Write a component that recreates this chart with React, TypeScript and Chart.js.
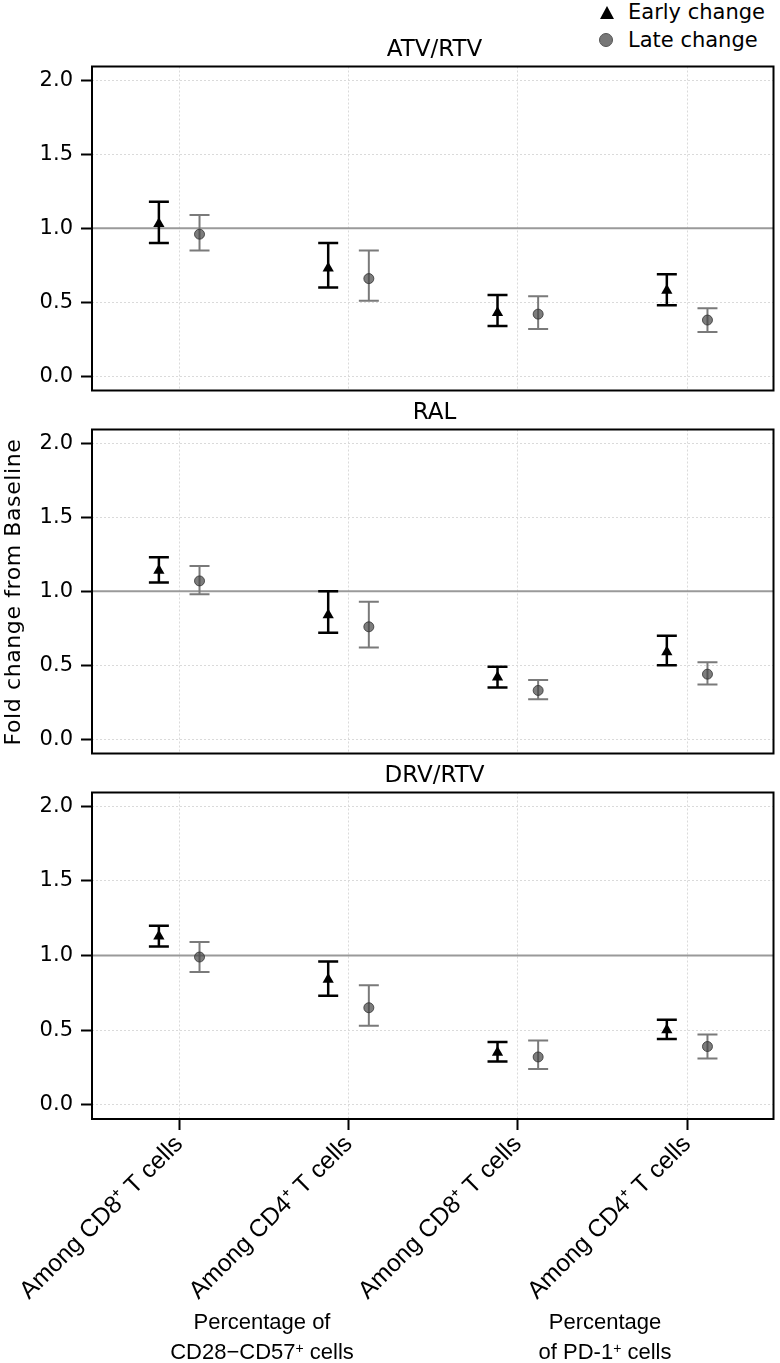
import React, { useEffect, useRef } from "react";
import { Chart, registerables } from "chart.js";

Chart.register(...registerables);

// ---------- data ----------
const categories = [
  "Among CD8\u207A T cells",
  "Among CD4\u207A T cells",
  "Among CD8\u207A T cells",
  "Among CD4\u207A T cells",
];
const panelTitles = ["ATV/RTV", "RAL", "DRV/RTV"];
const seriesNames = ["Early change", "Late change"];
const yTickValues = [0, 0.5, 1, 1.5, 2];
const referenceValue = 1;
const groupLabels = [
  ["Percentage of", "CD28\u2212CD57", " cells"],
  ["Percentage", "of PD-1", " cells"],
];

// ATV/RTV
const atvEarlyMean = [1.03, 0.73, 0.43, 0.58];
const atvEarlyLow = [0.9, 0.6, 0.34, 0.48];
const atvEarlyHigh = [1.18, 0.9, 0.55, 0.69];
const atvLateMean = [0.96, 0.66, 0.42, 0.38];
const atvLateLow = [0.85, 0.51, 0.32, 0.3];
const atvLateHigh = [1.09, 0.85, 0.54, 0.46];

// RAL
const ralEarlyMean = [1.14, 0.84, 0.42, 0.59];
const ralEarlyLow = [1.06, 0.72, 0.35, 0.5];
const ralEarlyHigh = [1.23, 1.0, 0.49, 0.7];
const ralLateMean = [1.07, 0.76, 0.33, 0.44];
const ralLateLow = [0.98, 0.62, 0.27, 0.37];
const ralLateHigh = [1.17, 0.93, 0.4, 0.52];

// DRV/RTV
const drvEarlyMean = [1.13, 0.84, 0.35, 0.5];
const drvEarlyLow = [1.06, 0.73, 0.29, 0.44];
const drvEarlyHigh = [1.2, 0.96, 0.42, 0.57];
const drvLateMean = [0.99, 0.65, 0.32, 0.39];
const drvLateLow = [0.89, 0.53, 0.24, 0.31];
const drvLateHigh = [1.09, 0.8, 0.43, 0.47];

const panelData = [
  { early: [atvEarlyMean, atvEarlyLow, atvEarlyHigh], late: [atvLateMean, atvLateLow, atvLateHigh] },
  { early: [ralEarlyMean, ralEarlyLow, ralEarlyHigh], late: [ralLateMean, ralLateLow, ralLateHigh] },
  { early: [drvEarlyMean, drvEarlyLow, drvEarlyHigh], late: [drvLateMean, drvLateLow, drvLateHigh] },
];

// ---------- styling / layout ----------
const W = 780;
const PLOT_LEFT = 92;
const PAD_RIGHT = 3;
const PLOT_H = 329;
const PLOT_TOPS = [64, 427, 790];
const EARLY_OFFSET = -0.12;
const LATE_OFFSET = 0.12;
const FONT = "'DejaVu Sans', sans-serif";
const LABEL_FONT = "'Liberation Sans', Arial, sans-serif";
const GRID_COLOR = "#dadada";

const decorPlugin = {
  id: "decor",
  beforeDatasetsDraw(chart: any) {
    const { ctx, chartArea, scales } = chart;
    const xs = scales.x;
    const ys = scales.y;
    ctx.save();
    ctx.beginPath();
    ctx.rect(chartArea.left, chartArea.top, chartArea.right - chartArea.left, chartArea.bottom - chartArea.top);
    ctx.clip();
    // reference line
    const yr = ys.getPixelForValue(referenceValue);
    ctx.strokeStyle = "#9a9a9a";
    ctx.lineWidth = 2;
    ctx.beginPath();
    ctx.moveTo(chartArea.left, yr);
    ctx.lineTo(chartArea.right, yr);
    ctx.stroke();
    // error bars
    chart.data.datasets.forEach((ds: any) => {
      ctx.strokeStyle = ds.errColor;
      ctx.lineWidth = ds.errWidth;
      ds.data.forEach((p: any, j: number) => {
        const x = xs.getPixelForValue(p.x);
        const y1 = ys.getPixelForValue(ds.errLow[j]);
        const y2 = ys.getPixelForValue(ds.errHigh[j]);
        const c = ds.capHalf;
        ctx.beginPath();
        ctx.moveTo(x, y1);
        ctx.lineTo(x, y2);
        ctx.moveTo(x - c, y1);
        ctx.lineTo(x + c, y1);
        ctx.moveTo(x - c, y2);
        ctx.lineTo(x + c, y2);
        ctx.stroke();
      });
    });
    ctx.restore();
  },
  afterDraw(chart: any) {
    const { ctx, chartArea } = chart;
    ctx.save();
    ctx.strokeStyle = "#000";
    ctx.lineWidth = 2;
    ctx.strokeRect(chartArea.left, chartArea.top, chartArea.right - chartArea.left, chartArea.bottom - chartArea.top);
    ctx.restore();
  },
};

function Panel({ index }: { index: number }) {
  const ref = useRef<HTMLCanvasElement>(null);
  const isBottom = index === 2;
  const padTop = 4;
  const canvasTop = PLOT_TOPS[index] - padTop;
  const canvasH = isBottom ? 1363 - canvasTop : PLOT_H + padTop + 4;
  const xHeight = canvasH - padTop - PLOT_H;

  useEffect(() => {
    const d = panelData[index];
    const chart = new Chart(ref.current as HTMLCanvasElement, {
      type: "scatter",
      data: {
        datasets: [
          {
            label: seriesNames[0],
            data: d.early[0].map((v, i) => ({ x: i + EARLY_OFFSET, y: v })),
            errLow: d.early[1],
            errHigh: d.early[2],
            errColor: "#000",
            errWidth: 2.5,
            capHalf: 10,
            pointStyle: "triangle",
            pointRadius: 6.5,
            backgroundColor: "#000",
            borderColor: "#000",
            borderWidth: 0,
          } as any,
          {
            label: seriesNames[1],
            data: d.late[0].map((v, i) => ({ x: i + LATE_OFFSET, y: v })),
            errLow: d.late[1],
            errHigh: d.late[2],
            errColor: "#7a7a7a",
            errWidth: 2,
            capHalf: 10,
            pointStyle: "circle",
            pointRadius: 5,
            backgroundColor: "rgba(70,70,70,0.7)",
            borderColor: "rgba(50,50,50,0.8)",
            borderWidth: 1,
          } as any,
        ],
      },
      options: {
        animation: false,
        responsive: false,
        devicePixelRatio: 1,
        layout: { padding: { top: padTop, right: PAD_RIGHT, left: 0, bottom: 0 } },
        plugins: { legend: { display: false }, tooltip: { enabled: false }, title: { display: false } },
        scales: {
          x: {
            type: "linear",
            min: -0.515,
            max: 3.51,
            afterBuildTicks: (s: any) => {
              s.ticks = categories.map((_, i) => ({ value: i }));
            },
            afterFit: (s: any) => {
              s.height = xHeight;
              s.paddingLeft = 0;
              s.paddingRight = 0;
            },
            ticks: {
              display: isBottom,
              autoSkip: false,
              minRotation: 45,
              maxRotation: 45,
              padding: 0,
              color: "#000",
              font: { family: LABEL_FONT, size: 24.5 },
              callback: (v: any) => categories[Math.round(Number(v))],
            },
            grid: {
              color: GRID_COLOR,
              lineWidth: 1,
              drawTicks: isBottom,
              tickLength: 11,
              tickColor: "#000",
              tickWidth: 2,
            },
            border: { display: false, dash: [2, 2] },
          },
          y: {
            type: "linear",
            min: -0.096,
            max: 2.093,
            afterBuildTicks: (s: any) => {
              s.ticks = yTickValues.map((v) => ({ value: v }));
            },
            afterFit: (s: any) => {
              s.width = PLOT_LEFT;
              s.paddingTop = 0;
              s.paddingBottom = 0;
            },
            ticks: {
              color: "#000",
              padding: 8,
              font: { family: FONT, size: 21 },
              callback: (v: any) => Number(v).toFixed(1),
            },
            grid: {
              color: GRID_COLOR,
              lineWidth: 1,
              tickLength: 11,
              tickColor: "#000",
              tickWidth: 2,
            },
            border: { display: false, dash: [2, 2] },
          },
        },
      } as any,
      plugins: [decorPlugin],
    });
    return () => chart.destroy();
  }, [index]);

  return (
    <canvas
      ref={ref}
      width={W}
      height={canvasH}
      style={{ position: "absolute", left: 0, top: canvasTop, width: W, height: canvasH }}
    />
  );
}

const titleCenterX = (PLOT_LEFT + W - PAD_RIGHT) / 2;

export default function App() {
  return (
    <div style={{ position: "absolute", left: 0, top: 0, width: W, height: 1363, background: "#fff", overflow: "hidden" }}>
      {[0, 1, 2].map((i) => (
        <Panel key={i} index={i} />
      ))}
      {panelTitles.map((t, i) => (
        <div
          key={t}
          style={{
            position: "absolute",
            left: titleCenterX - 150,
            width: 300,
            top: PLOT_TOPS[i] - 16 - 12.6,
            textAlign: "center",
            font: `23px ${FONT}`,
            lineHeight: "26px",
            color: "#000",
            whiteSpace: "nowrap",
          }}
        >
          {t}
        </div>
      ))}
      {/* legend */}
      <div
        style={{
          position: "absolute",
          left: 600,
          top: 6,
          width: 0,
          height: 0,
          borderLeft: "7.5px solid transparent",
          borderRight: "7.5px solid transparent",
          borderBottom: "13px solid #000",
        }}
      />
      <div
        style={{
          position: "absolute",
          left: 599,
          top: 33,
          width: 12,
          height: 12,
          borderRadius: "50%",
          background: "#777",
          border: "1px solid #555",
        }}
      />
      <div style={{ position: "absolute", left: 628, top: -1, font: `21px ${FONT}`, lineHeight: "26px", whiteSpace: "nowrap" }}>
        {seriesNames[0]}
      </div>
      <div style={{ position: "absolute", left: 628, top: 26.5, font: `21px ${FONT}`, lineHeight: "26px", whiteSpace: "nowrap" }}>
        {seriesNames[1]}
      </div>
      {/* y axis title */}
      <div
        style={{
          position: "absolute",
          left: 13 - 200,
          top: 592 - 13,
          width: 400,
          textAlign: "center",
          font: `22px ${FONT}`,
          lineHeight: "26px",
          letterSpacing: "0.6px",
          transform: "rotate(-90deg)",
          transformOrigin: "50% 50%",
          whiteSpace: "nowrap",
        }}
      >
        Fold change from Baseline
      </div>
      {/* group labels */}
      {groupLabels.map((g, i) => (
        <div
          key={i}
          style={{
            position: "absolute",
            left: (i === 0 ? 262 : 605) - 150,
            width: 300,
            top: 1308,
            textAlign: "center",
            font: `22px ${LABEL_FONT}`,
            lineHeight: "27px",
            whiteSpace: "nowrap",
          }}
        >
          <div>{g[0]}</div>
          <div>
            {g[1]}
            <span style={{ fontSize: 14, verticalAlign: "6px" }}>+</span>
            {g[2]}
          </div>
        </div>
      ))}
    </div>
  );
}
